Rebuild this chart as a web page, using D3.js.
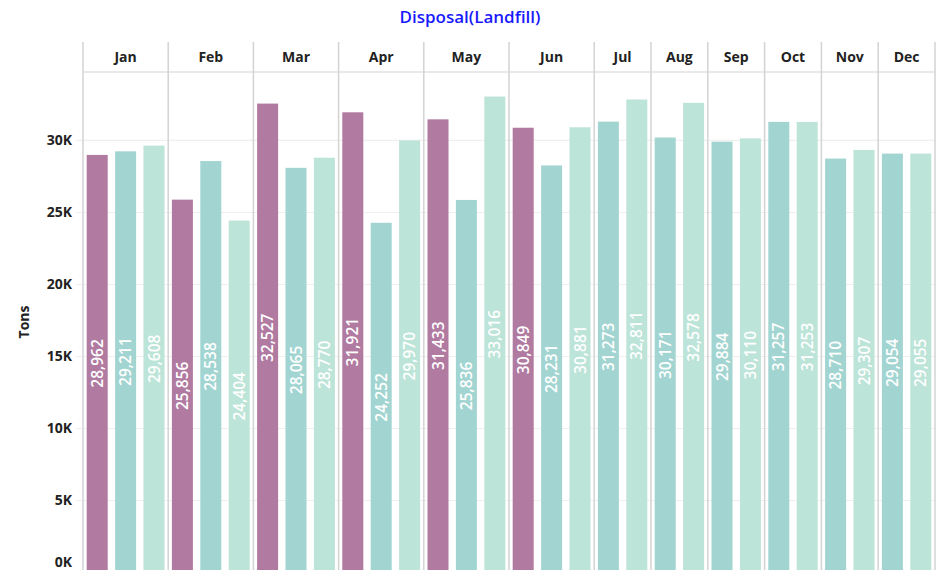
<!DOCTYPE html>
<html>
<head>
<meta charset="utf-8">
<script src="https://cdn.jsdelivr.net/npm/d3@7"></script>
<style>
  body { margin: 0; background: #fff; }
  text { font-family: "Open Sans", "Noto Sans", sans-serif; }
</style>
</head>
<body>
<svg width="940" height="570"></svg>
<script>
// months and the three yearly series (first year only covers Jan-Jun)
var months = ["Jan","Feb","Mar","Apr","May","Jun","Jul","Aug","Sep","Oct","Nov","Dec"];
var year1 = [28962, 25856, 32527, 31921, 31433, 30849, null, null, null, null, null, null];
var year2 = [29211, 28538, 28065, 24252, 25836, 28231, 31273, 30171, 29884, 31257, 28710, 29054];
var year3 = [29608, 24404, 28770, 29970, 33016, 30881, 32811, 32578, 30110, 31253, 29307, 29055];
var yTicks = [0, 5000, 10000, 15000, 20000, 25000, 30000];
var colors = ["#b07aa1", "#a2d5d1", "#bde4d8"];

var svg = d3.select("svg"),
    left = 83, right = 935, headTop = 42, headBot = 72, base = 572;

// build slots: one per bar that exists
var panels = months.map(function(m, i) {
  var bars = [year1[i], year2[i], year3[i]]
    .map(function(v, s) { return {month: m, series: s, value: v}; })
    .filter(function(d) { return d.value != null; });
  return {month: m, bars: bars};
});
var slots = [];
panels.forEach(function(p) { p.bars.forEach(function(b) { slots.push(b.month + "-" + b.series); }); });

var x = d3.scaleBand().domain(slots).range([left, right]).paddingInner(0.26).paddingOuter(0.13);
var step = x.step();
var y = d3.scaleLinear().domain([0, 34720]).range([base, headBot]);

// title
svg.append("text")
  .attr("x", 470).attr("y", 23)
  .attr("text-anchor", "middle")
  .style("font-size", "17px").style("font-weight", "600")
  .attr("fill", "#1a1aff")
  .text("Disposal(Landfill)");

// gridlines
svg.append("g").selectAll("line")
  .data(yTicks.slice(1)).enter().append("line")
  .attr("x1", 76).attr("x2", right)
  .attr("y1", function(d) { return y(d) + 0.5; })
  .attr("y2", function(d) { return y(d) + 0.5; })
  .attr("stroke", "#efefef").attr("stroke-width", 1.2);

// y axis labels
svg.append("g").selectAll("text")
  .data(yTicks).enter().append("text")
  .attr("x", 72)
  .attr("y", function(d) { return d === 0 ? base - 10 : y(d); })
  .attr("dy", "0.35em")
  .attr("text-anchor", "end")
  .style("font-size", "14px").style("font-weight", "700")
  .attr("fill", "#222")
  .text(function(d) { return d3.format("d")(d / 1000) + "K"; });

svg.append("text")
  .attr("transform", "translate(29,322) rotate(-90)")
  .attr("text-anchor", "middle")
  .style("font-size", "14px").style("font-weight", "700")
  .attr("fill", "#222")
  .text("Tons");

// bars
var allBars = [];
panels.forEach(function(p) { allBars = allBars.concat(p.bars); });

svg.append("g").selectAll("rect")
  .data(allBars).enter().append("rect")
  .attr("x", function(d) { return x(d.month + "-" + d.series); })
  .attr("width", x.bandwidth())
  .attr("y", function(d) { return y(d.value); })
  .attr("height", function(d) { return base - y(d.value); })
  .attr("fill", function(d) { return colors[d.series]; });

// value labels
svg.append("g").selectAll("text")
  .data(allBars).enter().append("text")
  .attr("transform", function(d) {
    var cx = x(d.month + "-" + d.series) + x.bandwidth() / 2;
    var cy = (y(d.value) + base) / 2;
    return "translate(" + cx + "," + cy + ") rotate(-90)";
  })
  .attr("text-anchor", "middle")
  .attr("dy", "0.36em")
  .style("font-size", "15.5px").style("font-weight", "600")
  .attr("fill", "#fff")
  .text(function(d) { return d3.format(",")(d.value); });

// panel separators and header
var edges = [left];
panels.forEach(function(p) {
  var last = p.bars[p.bars.length - 1];
  edges.push(x(last.month + "-" + last.series) + x.bandwidth() + (step - x.bandwidth()) / 2);
});
edges[edges.length - 1] = right;

svg.append("g").selectAll("line")
  .data(edges).enter().append("line")
  .attr("x1", function(d) { return d; }).attr("x2", function(d) { return d; })
  .attr("y1", headTop).attr("y2", 570)
  .attr("stroke", "#d3d3d3").attr("stroke-width", 1.5);

svg.append("line")
  .attr("x1", left).attr("x2", right)
  .attr("y1", headBot).attr("y2", headBot)
  .attr("stroke", "#d3d3d3").attr("stroke-width", 1.2);

svg.append("g").selectAll("text")
  .data(panels).enter().append("text")
  .attr("x", function(d, i) { return (edges[i] + edges[i + 1]) / 2; })
  .attr("y", 57)
  .attr("dy", "0.35em")
  .attr("text-anchor", "middle")
  .style("font-size", "14px").style("font-weight", "700")
  .attr("fill", "#222")
  .text(function(d) { return d.month; });
</script>
</body>
</html>
